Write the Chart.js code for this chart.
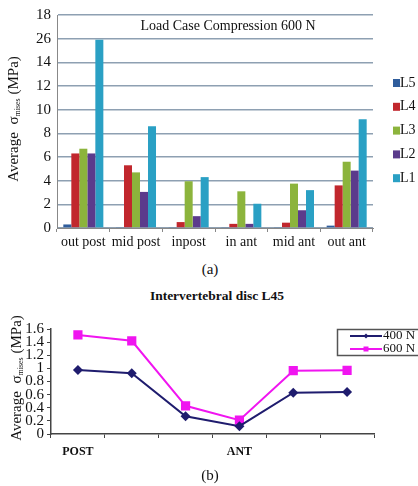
<!DOCTYPE html>
<html>
<head>
<meta charset="utf-8">
<script src="https://cdn.jsdelivr.net/npm/chart.js@4.4.1/dist/chart.umd.min.js"></script>
<style>
body { margin: 0; background: #fff; width: 418px; height: 486px; position: relative; overflow: hidden; font-family: "Liberation Serif", serif; color: #111; }
#boxA { position: absolute; left: 0; top: 0; width: 418px; height: 258px; }
#boxB { position: absolute; left: 0; top: 300px; width: 418px; height: 170px; }
.cap { position: absolute; left: 0; width: 418px; text-align: center; font-size: 15px; }
</style>
</head>
<body>
<div id="boxA"><canvas id="chartA"></canvas></div>
<div class="cap" style="top:261px;left:1px">(a)</div>
<div class="cap" style="top:288px;left:8px;font-size:13.5px;font-weight:bold">Intervertebral disc L45</div>
<div id="boxB"><canvas id="chartB"></canvas></div>
<div class="cap" style="top:467px;left:1px">(b)</div>
<script>
'use strict';

// chart (a): load case compression 600 N
const regions = ['out post', 'mid post', 'inpost', 'in ant', 'mid ant', 'out ant'];
const levels = ['L5', 'L4', 'L3', 'L2', 'L1'];
const levelColors = ['#2f5d9c', '#c1272d', '#8cb43c', '#5b3b8c', '#2aa0c4'];
const L5 = [0.3, 0.05, 0.05, 0.05, 0.05, 0.2];
const L4 = [6.3, 5.3, 0.5, 0.35, 0.45, 3.6];
const L3 = [6.7, 4.7, 3.95, 3.1, 3.75, 5.6];
const L2 = [6.3, 3.05, 1.0, 0.35, 1.5, 4.85];
const L1 = [15.9, 8.6, 4.3, 2.05, 3.2, 9.2];
// the original axis prints "26" where 16 should be
const yTicksA = ['0', '2', '4', '6', '8', '10', '12', '14', '26', '18'];

// chart (b): intervertebral disc L45
const discPoints = ['POST', '', '', 'ANT', '', ''];
const n400 = [0.975, 0.925, 0.27, 0.12, 0.63, 0.64];
const n600 = [1.51, 1.42, 0.43, 0.21, 0.965, 0.97];

const serif = '"Liberation Serif", serif';

function drawYTitle(ctx, x, y, size) {
    const big = size + 'px ' + serif;
    const small = Math.round(size * 0.55) + 'px ' + serif;
    const parts = [['Average  \u03c3', big, 0], ['mises', small, 4], [' (MPa)', big, 0]];
    ctx.save();
    ctx.translate(x, y);
    ctx.rotate(-Math.PI / 2);
    ctx.fillStyle = '#111';
    ctx.textBaseline = 'middle';
    let total = 0;
    parts.forEach(p => { ctx.font = p[1]; total += ctx.measureText(p[0]).width; });
    let cx = -total / 2;
    parts.forEach(p => {
        ctx.font = p[1];
        ctx.fillText(p[0], cx, p[2]);
        cx += ctx.measureText(p[0]).width;
    });
    ctx.restore();
}

const seriesA = [L5, L4, L3, L2, L1];

new Chart(document.getElementById('chartA'), {
    type: 'bar',
    data: {
        labels: regions,
        datasets: seriesA.map((d, i) => ({
            label: levels[i],
            data: d,
            backgroundColor: levelColors[i],
            borderWidth: 0
        }))
    },
    options: {
        responsive: true,
        maintainAspectRatio: false,
        animation: false,
        datasets: { bar: { categoryPercentage: 0.76, barPercentage: 1 } },
        layout: { padding: { left: 0, top: 8, right: 45, bottom: 0 } },
        plugins: { legend: { display: false }, tooltip: { enabled: false } },
        scales: {
            x: {
                grid: { display: true, drawOnChartArea: false, tickLength: 4, color: '#888' },
                border: { color: '#888', width: 1 },
                ticks: { color: '#111', font: { family: serif, size: 14 }, padding: 2, maxRotation: 0, autoSkip: false },
                afterFit: s => { s.height = 30; }
            },
            y: {
                min: 0,
                max: 18,
                ticks: {
                    stepSize: 2,
                    autoSkip: false,
                    color: '#111',
                    font: { family: serif, size: 15 },
                    padding: 6,
                    callback: v => yTicksA[Math.round(v / 2)]
                },
                grid: { color: '#8ea0b2', lineWidth: 1.5, drawTicks: false },
                border: { color: '#888', width: 1 },
                afterFit: s => { s.width = 57; }
            }
        }
    },
    plugins: [{
        id: 'decorA',
        afterDraw(chart) {
            const ctx = chart.ctx;
            ctx.save();
            ctx.fillStyle = '#111';
            ctx.font = '14px ' + serif;
            ctx.textAlign = 'center';
            ctx.textBaseline = 'middle';
            ctx.fillText('Load Case Compression 600 N', 228, 26);
            ctx.textAlign = 'left';
            chart.data.datasets.forEach((ds, i) => {
                const y = 83 + i * 23.8;
                ctx.fillStyle = ds.backgroundColor;
                ctx.fillRect(393, y - 4, 7, 8);
                ctx.fillStyle = '#111';
                ctx.fillText(ds.label, 400, y);
            });
            ctx.restore();
            drawYTitle(ctx, 14, 119, 15);
        }
    }]
});

function marker(ctx, style, x, y, r) {
    ctx.beginPath();
    if (style === 'rect') {
        ctx.rect(x - r, y - r, 2 * r, 2 * r);
    } else {
        ctx.moveTo(x, y - r);
        ctx.lineTo(x + r, y);
        ctx.lineTo(x, y + r);
        ctx.lineTo(x - r, y);
        ctx.closePath();
    }
    ctx.fill();
}

new Chart(document.getElementById('chartB'), {
    type: 'line',
    data: {
        labels: discPoints,
        datasets: [
            {
                label: '400 N',
                data: n400,
                borderColor: '#1f1c6e',
                backgroundColor: '#1f1c6e',
                borderWidth: 2,
                pointStyle: 'rectRot',
                pointRadius: 5,
                pointBorderWidth: 0,
                tension: 0
            },
            {
                label: '600 N',
                data: n600,
                borderColor: '#f015f0',
                backgroundColor: '#f015f0',
                borderWidth: 2,
                pointStyle: 'rect',
                pointRadius: 6.5,
                pointBorderWidth: 0,
                tension: 0
            }
        ]
    },
    options: {
        responsive: true,
        maintainAspectRatio: false,
        animation: false,
        layout: { padding: { left: 0, top: 29, right: 44, bottom: 0 } },
        plugins: { legend: { display: false }, tooltip: { enabled: false } },
        scales: {
            x: {
                offset: true,
                grid: { display: true, offset: true, drawOnChartArea: false, tickLength: 4, color: '#444' },
                border: { color: '#444', width: 1.5 },
                ticks: { color: '#111', font: { family: serif, size: 12, weight: 'bold' }, padding: 7, maxRotation: 0, autoSkip: false },
                afterFit: s => { s.height = 36; }
            },
            y: {
                min: 0,
                max: 1.6,
                ticks: {
                    stepSize: 0.2,
                    autoSkip: false,
                    color: '#111',
                    font: { family: serif, size: 15 },
                    padding: 3,
                    callback: v => String(Math.round(v * 10) / 10)
                },
                grid: { display: true, drawOnChartArea: false, tickLength: 4, color: '#444' },
                border: { color: '#444', width: 1.5 },
                afterFit: s => { s.width = 51; }
            }
        }
    },
    plugins: [{
        id: 'decorB',
        afterDraw(chart) {
            const ctx = chart.ctx;
            ctx.save();
            ctx.fillStyle = '#fff';
            ctx.fillRect(337, 29, 90, 26);
            ctx.strokeStyle = '#555';
            ctx.lineWidth = 1.5;
            ctx.strokeRect(337.5, 29.5, 90, 26);
            ctx.font = '13px ' + serif;
            ctx.textBaseline = 'middle';
            chart.data.datasets.forEach((ds, i) => {
                const y = 36 + i * 13;
                ctx.strokeStyle = ds.borderColor;
                ctx.lineWidth = 2;
                ctx.beginPath();
                ctx.moveTo(350, y);
                ctx.lineTo(382, y);
                ctx.stroke();
                ctx.fillStyle = ds.borderColor;
                marker(ctx, ds.pointStyle, 366, y, 2.5);
                ctx.fillStyle = '#111';
                ctx.fillText(ds.label, 383, y);
            });
            ctx.restore();
            drawYTitle(ctx, 17, 78, 15);
        }
    }]
});
</script>
</body>
</html>
